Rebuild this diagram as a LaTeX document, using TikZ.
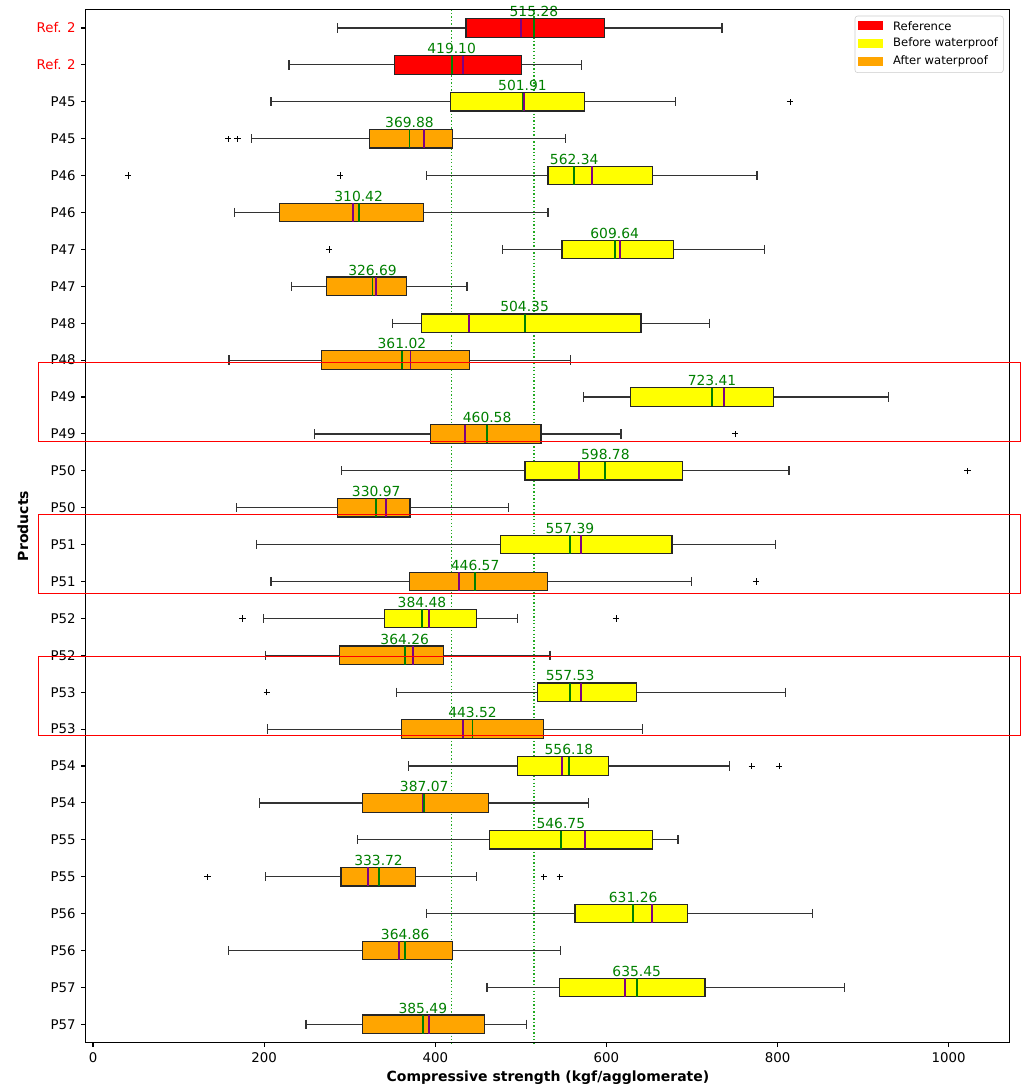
\documentclass[tikz,border=0pt]{standalone}
\usepackage{fontspec}
\setmainfont{DejaVu Sans}
\usepackage{tikz}
\usetikzlibrary{positioning}

\definecolor{meangreen}{HTML}{008000}
\definecolor{refgreen}{HTML}{22AA22}
\definecolor{medpurple}{HTML}{800080}
\definecolor{boxred}{HTML}{FF0000}
\definecolor{boxyellow}{HTML}{FFFF00}
\definecolor{boxorange}{HTML}{FFA500}

\tikzset{
  whisk/.style={line width=0.9pt, black!80},
  boxfr/.style={line width=0.9pt, draw=black!85},
  medline/.style={line width=1.4pt, medpurple},
  meanline/.style={line width=1.4pt, meangreen},
  meanlab/.style={text=meangreen, font=\fontsize{10.4}{12}\selectfont, anchor=base, inner sep=0pt},
  ticklab/.style={font=\fontsize{10}{12}\selectfont, inner sep=0pt},
  outl/.style={line width=0.7pt},
  refline/.style={refgreen, line width=1pt, dash pattern=on 1pt off 1.6pt},
  hilite/.style={draw=red, line width=0.8pt},
  legpatch/.style={minimum width=18.75pt, minimum height=6.5pt, inner sep=0pt},
  legtext/.style={font=\fontsize{8.7}{10}\selectfont, inner sep=0pt}
}

\begin{document}
\begin{tikzpicture}[x=0.75pt, y=-0.75pt]
\useasboundingbox (0,0) rectangle (1028,1088);
\fill[white] (0,0) rectangle (1028,1088);

% data part: x in kgf/agglomerate, y in rows
\begin{scope}[shift={(69.75pt,6.675pt)}, x=0.641775pt, y=-27.675pt]
  % reference means
  \draw[refline] (419.10,0.5) -- (419.10,28.5);
  \draw[refline] (515.28,0.5) -- (515.28,28.5);

  % boxes: row/low/Q1/median/mean/Q3/high/fill
  \foreach \r/\lo/\qa/\md/\mn/\qb/\hi/\fc in {
      1/286/436/500/515.28/597.5/735/boxred,
      2/229/352/432/419.10/500.6/571/boxred,
      3/208/417.6/504/501.91/574/681/boxyellow,
      4/185/323/387/369.88/420/552/boxorange,
      5/389.5/531.7/583/562.34/653.6/776/boxyellow,
      6/165.6/218/303.5/310.42/386.5/531.7/boxorange,
      7/479/548/616/609.64/678.6/785/boxyellow,
      8/232/273/331/326.69/366.6/437/boxorange,
      9/350/384/439/504.35/640.4/720/boxyellow,
      10/159/267/371/361.02/440/558/boxorange,
      11/573/628/737/723.41/795/930/boxyellow,
      12/258.6/394.6/434.7/460.58/523.5/617/boxorange,
      13/290.6/504.8/568.3/598.78/689/813.4/boxyellow,
      14/167.5/286/342/330.97/370.5/485.4/boxorange,
      15/191/476.4/570.3/557.39/676.6/798/boxyellow,
      16/208/369.7/428/446.57/531/699/boxorange,
      17/199/341/392.7/384.48/448.4/496.3/boxyellow,
      18/202/288/373.6/364.26/409.4/534/boxorange,
      19/354.4/519/570.3/557.53/635/809.5/boxyellow,
      20/203.7/360.7/432/443.52/526.7/642/boxorange,
      21/368.5/496.3/548.4/556.18/602.6/743.6/boxyellow,
      22/195/315/385.6/387.07/462/579/boxorange,
      23/309/463/575.3/546.75/653.6/683.6/boxyellow,
      24/201.4/289.8/321/333.72/376.7/448.4/boxorange,
      25/389.5/563.3/653.3/631.26/695/841/boxyellow,
      26/158/315/357.2/364.86/420.3/546/boxorange,
      27/460.4/545.4/621.3/635.45/715.2/878.4/boxyellow,
      28/249/315/393/385.49/457.3/506.4/boxorange}{
    \draw[whisk] (\lo,\r) -- (\qa,\r) (\qb,\r) -- (\hi,\r);
    \draw[whisk] (\lo,\r-0.125) -- (\lo,\r+0.125) (\hi,\r-0.125) -- (\hi,\r+0.125);
    \filldraw[boxfr, fill=\fc] (\qa,\r-0.25) rectangle (\qb,\r+0.25);
    \draw[medline] (\md,\r-0.25) -- (\md,\r+0.25);
    \draw[meanline] (\mn,\r-0.25) -- (\mn,\r+0.25);
    \node[meanlab] (lab\r) at (\mn,\r-0.304) {\mn};
  }

  % outliers
  \foreach \r/\v in {3/814.5, 4/158, 4/169, 5/41, 5/288.7, 7/275.8, 12/750.3,
      13/1021.8, 16/774.8, 17/174.5, 17/611.2, 19/203, 21/770, 21/801.7,
      24/133.6, 24/527, 24/545.4}
    \draw[outl] (\v,\r) ++(-2.4pt,0) -- ++(4.8pt,0) ++(-2.4pt,-2.4pt) -- ++(0,4.8pt);

  % frame and ticks
  \draw[line width=0.8pt] (-9,0.5) rectangle (1070.5,28.5);
  \foreach \r in {1,...,28}
    \draw[line width=0.8pt] (-9,\r) -- ++(-3.5pt,0);
  \foreach \v in {0,200,...,1000}{
    \draw[line width=0.8pt] (\v,28.5) -- ++(0,-3.5pt);
    \node[ticklab, anchor=north] (xt\v) at ([yshift=-7pt]\v,28.5) {\v};
  }
  \node[ticklab, anchor=east, text=red] (yt1) at ([xshift=-7pt]-9,1) {Ref. 2};
  \node[ticklab, anchor=east, text=red] (yt2) at ([xshift=-7pt]-9,2) {Ref. 2};
  \foreach \p in {45,...,57}{
    \pgfmathtruncatemacro{\ra}{2*(\p-45)+3}
    \pgfmathtruncatemacro{\rb}{2*(\p-45)+4}
    \node[ticklab, anchor=east] (yt\ra) at ([xshift=-7pt]-9,\ra) {P\p};
    \node[ticklab, anchor=east] (yt\rb) at ([xshift=-7pt]-9,\rb) {P\p};
  }
\end{scope}

% axis titles
\node[font=\bfseries\fontsize{10.5}{12}\selectfont] (xlab) at (548,1077.7) {Compressive strength (kgf/agglomerate)};
\node[font=\bfseries\fontsize{10.5}{12}\selectfont, rotate=90] (ylab) at (23,526) {Products};

% highlighted pairs
\draw[hilite] (38.3,362.7) rectangle (1020.7,441.7);
\draw[hilite] (38.3,514.3) rectangle (1020.7,593.3);
\draw[hilite] (38.3,656.3) rectangle (1020.7,735.3);

% legend
\draw[rounded corners=2pt, draw=black!20, fill=white, fill opacity=0.8] (855,16) rectangle (1003.3,72.7);
\node[legpatch, fill=boxred] (legR) at (870.8,25.7) {};
\node[legpatch, fill=boxyellow] (legY) at (870.8,43.5) {};
\node[legpatch, fill=boxorange] (legO) at (870.8,61.5) {};
\node[legtext, right=7pt of legR] (txtR) {Reference};
\node[legtext, right=7pt of legY] (txtY) {Before waterproof};
\node[legtext, right=7pt of legO] (txtO) {After waterproof};
\end{tikzpicture}
\end{document}
